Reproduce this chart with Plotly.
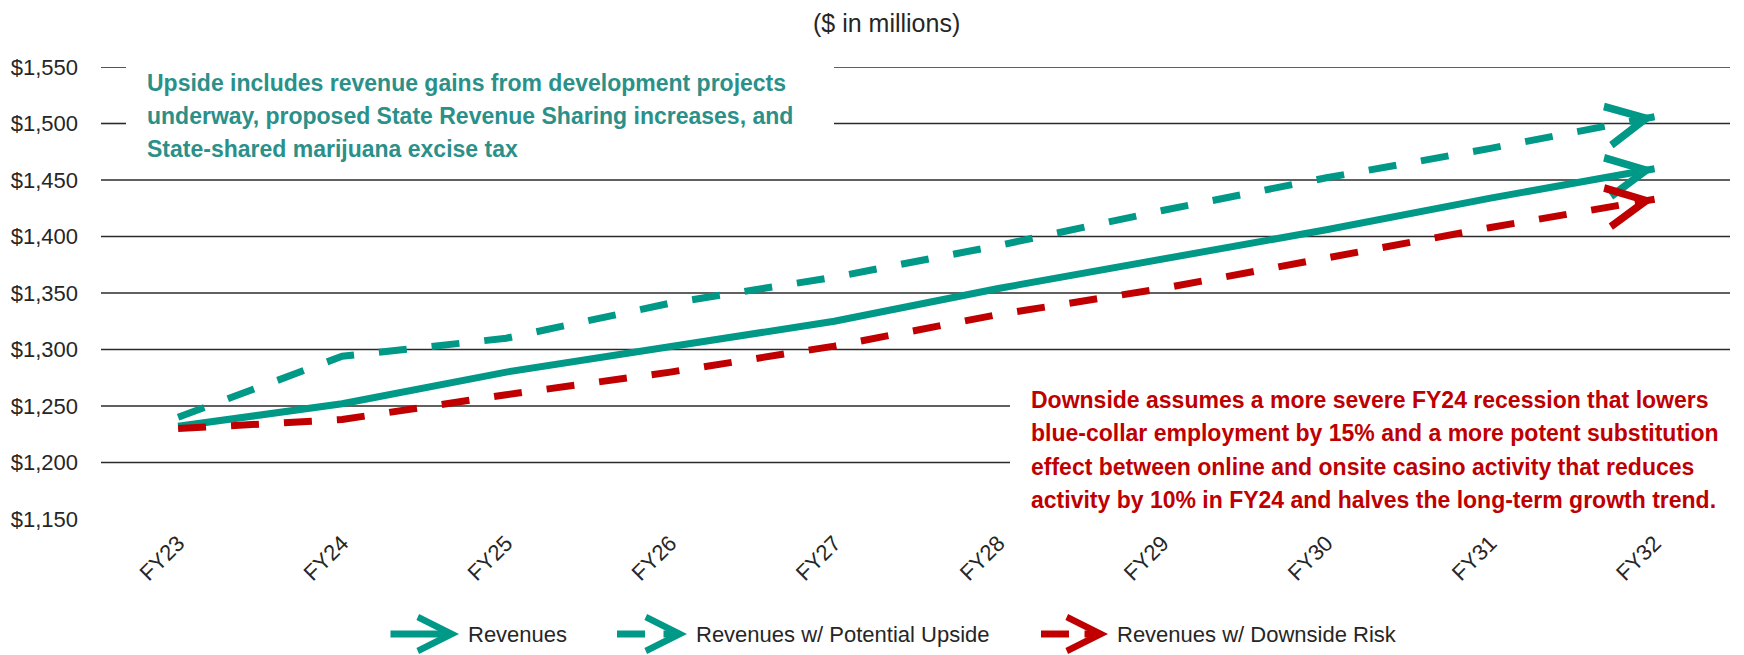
import plotly.graph_objects as go

years = ['FY23', 'FY24', 'FY25', 'FY26', 'FY27', 'FY28', 'FY29', 'FY30', 'FY31', 'FY32']
revenues = [1232, 1252, 1280, 1303, 1325, 1354, 1380, 1406, 1434, 1460]
upside = [1240, 1294, 1310, 1341, 1364, 1392, 1423, 1452, 1478, 1506]
downside = [1230, 1238, 1260, 1280, 1303, 1331, 1354, 1381, 1408, 1433]

y_ticks = [1150, 1200, 1250, 1300, 1350, 1400, 1450, 1500, 1550]
y_labels = ['$' + format(v, ',') for v in y_ticks]

upside_note = ['Upside includes revenue gains from development projects',
               'underway, proposed State Revenue Sharing increases, and',
               'State-shared marijuana excise tax']
downside_note = ['Downside assumes a more severe FY24 recession that lowers',
                 'blue-collar employment by 15% and a more potent substitution',
                 'effect between online and onsite casino activity that reduces',
                 'activity by 10% in FY24 and halves the long-term growth trend.']

TEAL = '#009886'
RED = '#C00000'
TEXT = '#262626'
FONT = 'Liberation Sans, Arial, sans-serif'

# the page body has an 8px margin, so the figure is a bit smaller than the window
OFF = 8
W, H = 1744 - OFF, 655 - OFF
L, R, T, B = 93, 14, 59, 136
plot_w = W - L - R
plot_h = H - T - B


def px_x(x):
    # page pixel -> paper x
    return (x - OFF - L) / plot_w


def px_y(y):
    # page pixel -> paper y
    return (H - B - (y - OFF)) / plot_h


xs = list(range(len(years)))
series = [
    ('Revenues', revenues, TEAL, 'solid'),
    ('Revenues w/ Potential Upside', upside, TEAL, '28px,25px'),
    ('Revenues w/ Downside Risk', downside, RED, '28px,25px'),
]

fig = go.Figure()
for name, vals, color, dash in series:
    fig.add_trace(go.Scatter(
        x=xs, y=vals, mode='lines', name=name,
        line=dict(color=color, width=7, dash=dash),
        showlegend=False,
    ))

annotations = []
shapes = []
HEAD = dict(showarrow=True, arrowhead=5, arrowwidth=7, standoff=0,
            text='', font=dict(size=1))

# arrow heads at the end of each series
for name, vals, color, dash in series:
    step = 0.12
    tail_y = vals[-1] - (vals[-1] - vals[-2]) * step
    annotations.append(dict(
        x=xs[-1], y=vals[-1], xref='x', yref='y',
        ax=xs[-1] - step, ay=tail_y, axref='x', ayref='y',
        arrowcolor=color, arrowsize=1.1, **HEAD,
    ))

# gridlines, broken where the notes sit
for v in y_ticks[1:]:
    if v >= 1500:
        segs = [(0, px_x(126)), (px_x(834), 1)]
    elif v <= 1250:
        segs = [(0, px_x(1010))]
    else:
        segs = [(0, 1)]
    for x0, x1 in segs:
        shapes.append(dict(type='line', xref='paper', yref='y',
                           x0=x0, x1=x1, y0=v, y1=v,
                           line=dict(color='#2b2b2b', width=1.6), layer='below'))

# notes
for i, line in enumerate(upside_note):
    annotations.append(dict(
        x=px_x(145), y=px_y(83 + 33 * i), xref='paper', yref='paper',
        xanchor='left', yanchor='middle', showarrow=False,
        text='<b>' + line + '</b>', font=dict(family=FONT, size=23, color='#2A9089'),
    ))
for i, line in enumerate(downside_note):
    annotations.append(dict(
        x=px_x(1029), y=px_y(400 + 33.3 * i), xref='paper', yref='paper',
        xanchor='left', yanchor='middle', showarrow=False,
        text='<b>' + line + '</b>', font=dict(family=FONT, size=23, color=RED),
    ))

# title
annotations.append(dict(
    x=px_x(886), y=px_y(23), xref='paper', yref='paper',
    xanchor='center', yanchor='middle', showarrow=False,
    text='($ in millions)', font=dict(family=FONT, size=25, color=TEXT),
))

# hand-made legend with arrow icons
leg_y = px_y(634)
legend_items = [
    # name, color, dashed, dash start, tip, text left
    ('Revenues', TEAL, False, 389, 459, 466),
    ('Revenues w/ Potential Upside', TEAL, True, 617, 687, 694),
    ('Revenues w/ Downside Risk', RED, True, 1041, 1108, 1115),
]
for name, color, dashed, x_start, x_tip, x_text in legend_items:
    if dashed:
        shapes.append(dict(type='line', xref='paper', yref='paper',
                           x0=px_x(x_start), x1=px_x(x_start + 28), y0=leg_y, y1=leg_y,
                           line=dict(color=color, width=7)))
        ax = -25
    else:
        ax = -(x_tip - x_start)
    annotations.append(dict(
        x=px_x(x_tip), y=leg_y, xref='paper', yref='paper',
        ax=ax, ay=0, arrowcolor=color, arrowsize=0.95, **HEAD,
    ))
    annotations.append(dict(
        x=px_x(x_text), y=leg_y, xref='paper', yref='paper',
        xanchor='left', yanchor='middle', showarrow=False,
        text=name, font=dict(family=FONT, size=22, color=TEXT),
    ))

fig.update_layout(
    width=W, height=H,
    margin=dict(l=L, r=R, t=T, b=B),
    paper_bgcolor='white', plot_bgcolor='white',
    showlegend=False,
    font=dict(family=FONT, size=22, color=TEXT),
    annotations=annotations,
    shapes=shapes,
    xaxis=dict(
        range=[-0.47, 9.46], tickvals=xs, ticktext=years, tickangle=-45,
        showgrid=False, zeroline=False, showline=False, automargin=False,
        ticklabelstandoff=6, tickfont=dict(size=22),
    ),
    yaxis=dict(
        range=[1150, 1550], tickvals=y_ticks, ticktext=y_labels,
        showgrid=False, zeroline=False, showline=False, automargin=False,
        ticklabelstandoff=22, tickfont=dict(size=22),
    ),
)

fig.write_html('out.html')
